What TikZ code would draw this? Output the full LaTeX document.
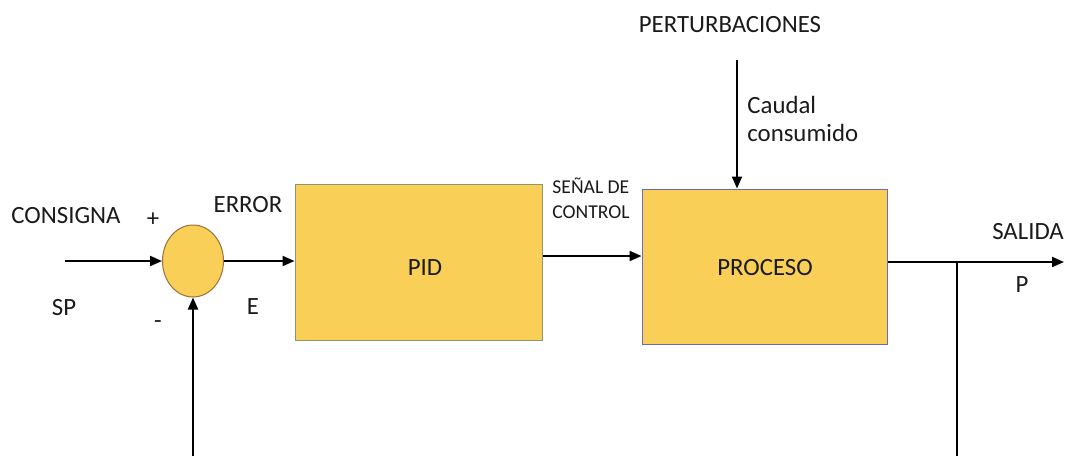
\documentclass[tikz,border=0pt]{standalone}
\usepackage{fontspec}
\setmainfont{Carlito}
\usetikzlibrary{shapes.geometric,arrows.meta}
\definecolor{boxfill}{HTML}{F9CF58}
\definecolor{pidborder}{HTML}{8A9A6A}
\definecolor{procborder}{HTML}{6A6AB8}
\definecolor{sumborder}{HTML}{9A7040}
\definecolor{txt}{HTML}{1A1A1A}
\tikzset{
  lbl/.style={text=txt,font=\fontsize{12.4}{14}\selectfont,inner sep=0pt},
  smalllbl/.style={text=txt,font=\fontsize{9.8}{12.5}\selectfont,inner sep=0pt,align=left},
  blockbox/.style={draw,line width=0.5pt,fill=boxfill,rectangle,inner sep=0pt},
  sig/.style={line width=1pt,draw=black,-{Triangle[length=6pt,width=5pt]}},
  plainsig/.style={line width=1pt,draw=black},
}
\begin{document}
\begin{tikzpicture}[x=0.5pt,y=-0.5pt]
\useasboundingbox (0,0) rectangle (1070,456);
% blocks
\node[ellipse,draw=sumborder,line width=0.5pt,fill=boxfill,minimum width=30.5pt,minimum height=36pt,inner sep=0pt] (sum) at (193,261) {};
\node[blockbox,draw=pidborder,minimum width=123.5pt,minimum height=78pt] (pid) at (418.5,262) {};
\node[blockbox,draw=procborder,minimum width=122.5pt,minimum height=77.5pt] (proc) at (764.5,266.5) {};
% texts
\node[lbl] (pidt) at (425,268) {PID};
\node[lbl] (proct) at (765,268) {PROCESO};
\node[lbl] (consigna) at (66,216) {CONSIGNA};
\node[lbl] (plus) at (153,220) {+};
\node[lbl] (minus) at (158,325) {-};
\node[lbl] (error) at (248,205) {ERROR};
\node[lbl] (sp) at (64,308) {SP};
\node[lbl] (e) at (253,307) {E};
\node[smalllbl] (senal) at (591,198) {SEÑAL DE\\CONTROL};
\node[lbl] (pert) at (730,25) {PERTURBACIONES};
\node[lbl,anchor=west,align=left] (caudal) at (747,119) {Caudal\\consumido};
\node[lbl] (salida) at (1028,232) {SALIDA};
\node[lbl] (p) at (1022,285) {P};
% coordinates
\coordinate (in) at (65,261);
\coordinate (out) at (1064,262);
\coordinate (branch) at (957,262);
\coordinate (fbR) at (957,456);
\coordinate (fbL) at (193,456);
\coordinate (dist) at (737,60);
% connectors
\draw[sig] (in) -- (sum.west);
\draw[sig] (sum.east) -- (sum.east -| pid.west);
\draw[sig] (pid.east |- 0,256) -- (proc.west |- 0,256);
\draw[sig] (dist) -- (dist |- proc.north);
\draw[sig] (proc.east |- out) -- (out);
\draw[plainsig] (branch) -- (fbR);
\draw[sig] (fbL) -- (sum.south);
\end{tikzpicture}
\end{document}
